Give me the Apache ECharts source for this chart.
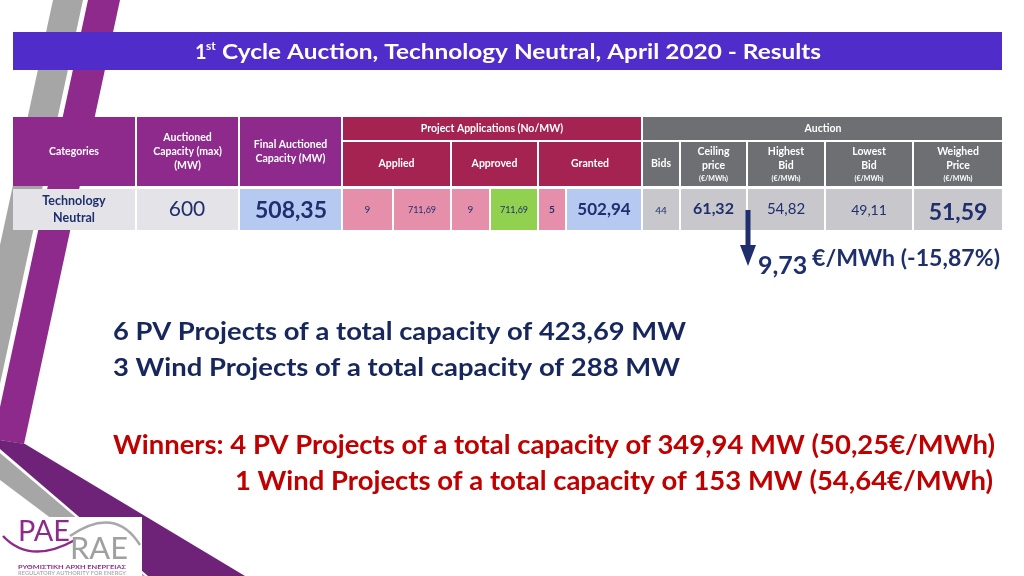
<!DOCTYPE html>
<html>
<head>
<meta charset="utf-8">
<script src="https://cdn.jsdelivr.net/npm/echarts@6/dist/echarts.min.js"></script>
<style>
html,body{margin:0;padding:0;background:#fff;}
#c{width:1024px;height:576px;}
</style>
</head>
<body>
<div id="c"></div>
<script>
// ---------- DATA ----------
const titleParts = ['1', 'st', 'Cycle Auction, Technology Neutral, April 2020 - Results'];
const mainHeaders = ['Categories', 'Auctioned\nCapacity (max)\n(MW)', 'Final Auctioned\nCapacity (MW)'];
const groupHeaders = ['Project Applications (No/MW)', 'Auction'];
const applicationHeaders = ['Applied', 'Approved', 'Granted'];
const auctionHeaders = ['Bids', 'Ceiling\nprice', 'Highest\nBid', 'Lowest\nBid', 'Weighed\nPrice'];
const auctionUnits = ['', '(€/MWh)', '(€/MWh)', '(€/MWh)', '(€/MWh)'];
const categoryName = 'Technology\nNeutral';
const capacityValues = ['600', '508,35'];
const applicationValues = ['9', '711,69', '9', '711,69', '5', '502,94'];
const bidsCount = '44';
const priceValues = ['61,32', '54,82', '49,11', '51,59'];
const priceReduction = ['9,73', '€/MWh (-15,87%)'];
const submittedLines = ['6 PV Projects of a total capacity of 423,69 MW', '3 Wind Projects of a total capacity of 288 MW'];
const winnerLines = ['Winners: 4 PV Projects of a total capacity of 349,94 MW (50,25€/MWh)', '1 Wind Projects of a total capacity of 153 MW (54,64€/MWh)'];
const logoTexts = ['PAE', 'RAE', 'ΡΥΘΜΙΣΤΙΚΗ ΑΡΧΗ ΕΝΕΡΓΕΙΑΣ', 'REGULATORY AUTHORITY FOR ENERGY'];

// ---------- STYLE / LAYOUT ----------
const F = 'Lato, "Open Sans", sans-serif';
const NAVY = '#1F2F6E';
const C = {
  titleBar: '#502CCB', purple: '#8E2A8B', crimson: '#A52350', grayHead: '#6E6F73',
  lightGray: '#E4E4E8', blue: '#B5C9F1', pink: '#E58FAA', green: '#92D050', auctionGray: '#C8C8CC',
  stripeGray: '#A6A6A6', stripePurple: '#8E2A8B', bandPurple: '#6E2378', red: '#C00000'
};
const els = [];
const measureCtx = document.createElement('canvas').getContext('2d');
function measure(str, font) { measureCtx.font = font; return measureCtx.measureText(str).width; }
function add(e) { e.silent = true; els.push(e); return e; }
function rect(x, y, w, h, fill) { return add({ type: 'rect', shape: { x, y, width: w, height: h }, style: { fill } }); }
function poly(points, fill) { return add({ type: 'polygon', shape: { points }, style: { fill } }); }
function text(x, y, str, font, fill, align, vAlign, extra) {
  align = align || 'center'; vAlign = vAlign || 'middle';
  const e = { type: 'text', x, y, style: Object.assign({ text: str, font, fill, align, verticalAlign: vAlign, textAlign: align, textVerticalAlign: vAlign }, extra || {}) };
  return add(e);
}
// text stretched horizontally to span a given width
function fitText(x, y, str, font, fill, width, align) {
  const w = measure(str, font);
  const e = text(x, y, str, font, fill, align || 'left', 'middle');
  e.scaleX = width / w;
  return e;
}

// decorative stripes
poly([[53, 0], [83, 0], [0, 384], [0, 245]], C.stripeGray);
poly([[88, 0], [120, 0], [24, 444], [0, 440], [0, 407]], C.stripePurple);
poly([[0, 453], [145, 576], [128, 576], [0, 480]], C.stripeGray);
poly([[0, 440], [25, 444], [245, 576], [148, 576], [0, 449]], C.bandPurple);

// title bar
rect(13, 32, 989, 38, C.titleBar);
text(195, 53, titleParts[0], 'bold 20px ' + F, '#fff', 'left', 'middle');
text(206, 46, titleParts[1], 'bold 12px ' + F, '#fff', 'left', 'middle');
fitText(222, 52, titleParts[2], 'bold 21px ' + F, '#fff', 599, 'left');

// ---------- TABLE ----------
const headFont = 'bold 10.5px ' + F;
const yH1 = 117, yH2 = 142, yD = 189, yEnd = 230;
const mainCols = [[13, 135], [137, 238], [240, 341]];
mainCols.forEach((c, i) => {
  rect(c[0], yH1, c[1] - c[0], 186 - yH1, C.purple);
  text((c[0] + c[1]) / 2, 152, mainHeaders[i], headFont, '#fff', 'center', 'middle', { lineHeight: 14 });
});
// group headers
rect(343, yH1, 298, 23, C.crimson);
text(492, 129, groupHeaders[0], headFont, '#fff');
rect(643, yH1, 359, 23, C.grayHead);
text(823, 129, groupHeaders[1], headFont, '#fff');
// application sub headers
const appCols = [[343, 450], [452, 537], [539, 641]];
appCols.forEach((c, i) => {
  rect(c[0], yH2, c[1] - c[0], 186 - yH2, C.crimson);
  text((c[0] + c[1]) / 2, 164, applicationHeaders[i], headFont, '#fff');
});
// auction sub headers
const aucCols = [[643, 679], [681, 746], [748, 824], [826, 912], [914, 1002]];
aucCols.forEach((c, i) => {
  rect(c[0], yH2, c[1] - c[0], 186 - yH2, C.grayHead);
  const cx = (c[0] + c[1]) / 2;
  if (auctionUnits[i]) {
    text(cx, 159, auctionHeaders[i], headFont, '#fff', 'center', 'middle', { lineHeight: 14 });
    text(cx, 179, auctionUnits[i], 'bold 7px ' + F, '#fff');
  } else {
    text(cx, 164, auctionHeaders[i], headFont, '#fff');
  }
});

// data row
const dh = yEnd - yD;
rect(13, yD, 122, dh, C.lightGray);
text(74, 209, categoryName, 'bold 12.5px ' + F, NAVY, 'center', 'middle', { lineHeight: 17 });
rect(137, yD, 101, dh, C.lightGray);
text(187, 209, capacityValues[0], 'normal 21px ' + F, NAVY);
rect(240, yD, 101, dh, C.blue);
text(291, 211, capacityValues[1], 'bold 23px ' + F, NAVY);

const appDataCols = [[343, 392, C.pink, 'normal 10px '], [394, 450, C.pink, 'normal 9px '], [452, 489, C.pink, 'normal 10px '],
  [491, 537, C.green, 'normal 9px '], [539, 565, C.pink, 'bold 10px '], [567, 641, C.blue, 'bold 17px ']];
appDataCols.forEach((c, i) => {
  rect(c[0], yD, c[1] - c[0], dh, c[2]);
  text((c[0] + c[1]) / 2, 210, applicationValues[i], c[3] + F, NAVY);
});

const aucDataFonts = ['bold 16px ', 'normal 15px ', 'normal 14px ', 'bold 23px '];
const aucDataY = [209, 209, 210, 213];
aucCols.forEach((c, i) => {
  rect(c[0], yD, c[1] - c[0], dh, C.auctionGray);
  const cx = (c[0] + c[1]) / 2;
  if (i === 0) text(cx, 211, bidsCount, 'normal 10px ' + F, NAVY);
  else text(cx, aucDataY[i - 1], priceValues[i - 1], aucDataFonts[i - 1] + F, NAVY);
});

// arrow + reduction
poly([[745.5, 210], [750.5, 210], [750.5, 245], [756, 245], [748, 266], [740, 245], [745.5, 245]], NAVY);
text(758, 266, priceReduction[0], 'bold 25px ' + F, NAVY, 'left', 'middle');
fitText(812, 259, priceReduction[1], 'bold 22px ' + F, NAVY, 188, 'left');

// summary lines
fitText(113, 332, submittedLines[0], 'bold 25px ' + F, '#17275E', 573, 'left');
fitText(113, 368, submittedLines[1], 'bold 25px ' + F, '#17275E', 567, 'left');
fitText(113, 445, winnerLines[0], 'bold 27px ' + F, C.red, 882, 'left');
fitText(235, 481, winnerLines[1], 'bold 27px ' + F, C.red, 758, 'left');

// logo
rect(0, 517, 142, 59, '#FFFFFF');
add({ type: 'bezierCurve', shape: { x1: 3, y1: 536, cpx1: 30, cpy1: 565, x2: 75, y2: 540 }, style: { stroke: C.stripePurple, lineWidth: 2.5, fill: 'none' } });
add({ type: 'bezierCurve', shape: { x1: 70, y1: 536, cpx1: 115, cpy1: 505, x2: 140, y2: 545 }, style: { stroke: '#A8A8A8', lineWidth: 2.5, fill: 'none' } });
fitText(18, 532, logoTexts[0], 'normal 28px ' + F, C.stripePurple, 52, 'left');
fitText(70, 549, logoTexts[1], 'normal 31px ' + F, '#A0A0A0', 58, 'left');
fitText(18, 567, logoTexts[2], 'bold 6px ' + F, C.stripePurple, 108, 'left');
fitText(18, 573, logoTexts[3], 'bold 5px ' + F, '#B0B0B0', 108, 'left');

const chart = echarts.init(document.getElementById('c'), null, { renderer: 'canvas', width: 1024, height: 576 });
chart.setOption({ animation: false, backgroundColor: '#ffffff', graphic: { elements: els } });
</script>
</body>
</html>
